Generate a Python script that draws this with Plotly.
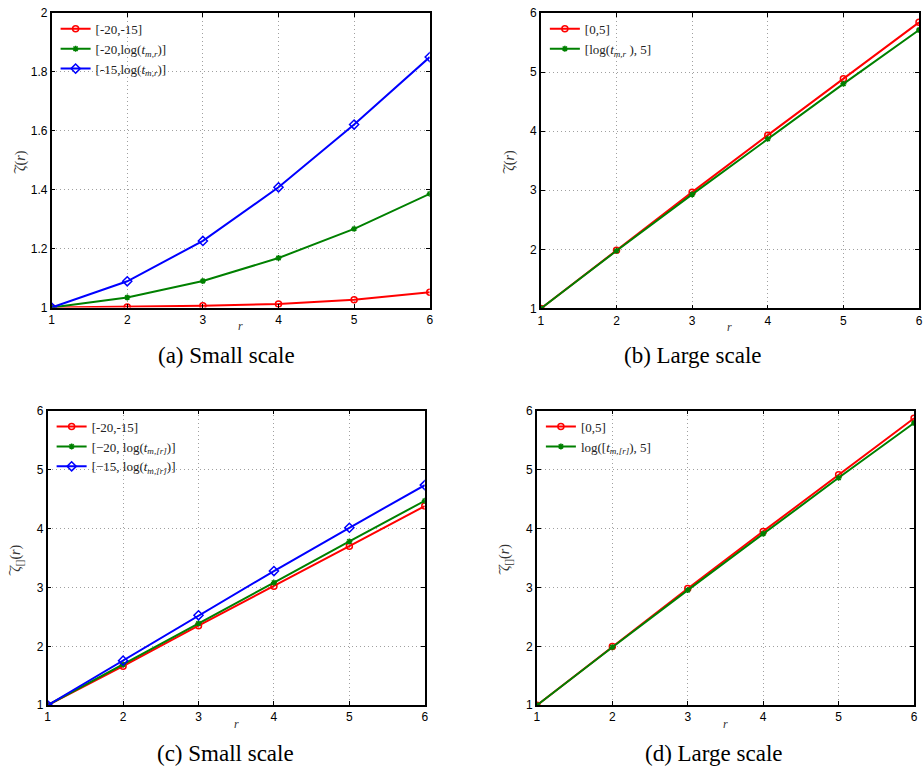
import plotly.graph_objects as go

r = [1, 2, 3, 4, 5, 6]

# (a) Small scale
a_red = [1.0, 1.002, 1.006, 1.012, 1.026, 1.052]
a_green = [1.0, 1.034, 1.090, 1.168, 1.267, 1.386]
a_blue = [1.0, 1.089, 1.226, 1.408, 1.621, 1.850]
# (b) Large scale
b_red = [1.0, 1.987, 2.968, 3.932, 4.886, 5.84]
b_green = [1.0, 1.976, 2.93, 3.87, 4.80, 5.71]
# (c) Small scale
c_red = [1.0, 1.663, 2.35, 3.02, 3.70, 4.38]
c_green = [1.0, 1.69, 2.39, 3.08, 3.78, 4.47]
c_blue = [1.0, 1.757, 2.526, 3.277, 4.012, 4.736]
# (d) Large scale
d_red = [1.0, 1.997, 2.98, 3.95, 4.91, 5.87]
d_green = [1.0, 1.985, 2.954, 3.91, 4.86, 5.79]

leg_a = ["[-20,-15]", "[-20,log(<i>t</i><sub><i>m,r</i></sub>)]", "[-15,log(<i>t</i><sub><i>m,r</i></sub>)]"]
leg_b = ["[0,5]", "[log(<i>t</i><sub><i>m,r</i></sub> ), 5]"]
leg_c = ["[-20,-15]", "[\u221220, log(<i>t</i><sub><i>m,[r]</i></sub>)]", "[\u221215, log(<i>t</i><sub><i>m,[r]</i></sub>)]"]
leg_d = ["[0,5]", "log([<i>t</i><sub><i>m,[r]</i></sub>), 5]"]

RED, GREEN, BLUE = "#ff0000", "#008000", "#0000ff"
styles = {
    "red": dict(color=RED, marker=dict(symbol="circle-open", size=6, color=RED, line=dict(width=1.5, color=RED)), lw=2),
    "green": dict(color=GREEN, marker=dict(symbol="asterisk-open", size=5, color=GREEN, line=dict(width=1.5, color=GREEN)), lw=2),
    "blue": dict(color=BLUE, marker=dict(symbol="diamond-open", size=7, color=BLUE, line=dict(width=1.5, color=BLUE)), lw=2),
}

fig = go.Figure()

def add(y, name, style, ax, legend):
    s = styles[style]
    fig.add_trace(go.Scatter(
        x=r, y=y, name=name, mode="lines+markers",
        line=dict(color=s["color"], width=s["lw"]),
        marker=s["marker"],
        xaxis="x" + ax, yaxis="y" + ax, legend=legend,
    ))

add(a_red, leg_a[0], "red", "", "legend")
add(a_green, leg_a[1], "green", "", "legend")
add(a_blue, leg_a[2], "blue", "", "legend")
add(b_red, leg_b[0], "red", "2", "legend2")
add(b_green, leg_b[1], "green", "2", "legend2")
add(c_red, leg_c[0], "red", "3", "legend3")
add(c_green, leg_c[1], "green", "3", "legend3")
add(c_blue, leg_c[2], "blue", "3", "legend3")
add(d_red, leg_d[0], "red", "4", "legend4")
add(d_green, leg_d[1], "green", "4", "legend4")

W, H = 924, 780
# pixel boxes: left, right, top, bottom
boxes = {
    "": (49, 430, 6, 306),
    "2": (542, 923, 6, 307),
    "3": (45, 425, 411, 711),
    "4": (538, 918, 411, 711),
}
yranges = {"": [1, 2], "2": [1, 6], "3": [1, 6], "4": [1, 6]}
ydticks = {"": 0.2, "2": 1, "3": 1, "4": 1}

tickfont = dict(family="Liberation Sans, Arial, sans-serif", size=12, color="black")
axcommon = dict(
    showline=True, linecolor="black", linewidth=1.5, mirror="ticks",
    ticks="inside", ticklen=4, tickcolor="black", tickwidth=1,
    showgrid=True, gridcolor="#a0a0a0", gridwidth=1, griddash="1px,3px",
    zeroline=False, tickfont=tickfont,
)

layout = dict(
    width=W, height=H, margin=dict(l=0, r=0, t=0, b=0),
    paper_bgcolor="white", plot_bgcolor="white", showlegend=True,
)
for k, (l, rr, t, b) in boxes.items():
    xd = [l / W, rr / W]
    yd = [1 - b / H, 1 - t / H]
    layout["xaxis" + k] = dict(axcommon, domain=xd, range=[1, 6], dtick=1, tick0=1,
                               anchor="y" + k)
    layout["yaxis" + k] = dict(axcommon, domain=yd, range=yranges[k], dtick=ydticks[k],
                               tick0=1, anchor="x" + k)
    leg = "legend" + k
    layout[leg] = dict(
        x=(l + 4) / W, y=1 - (t + 1) / H, xanchor="left", yanchor="top",
        bgcolor="rgba(0,0,0,0)", borderwidth=0,
        font=dict(family="Liberation Serif, Times New Roman, serif", size=13, color="#222"),
        itemwidth=30, tracegroupgap=0,
    )

fig.update_layout(**layout)

ann = []
serif = "Liberation Serif, Times New Roman, serif"
for k, (l, rr, t, b) in boxes.items():
    cx = (l + rr) / 2
    cy = (t + b) / 2
    ann.append(dict(x=cx / W, y=1 - (b + 19) / H, xref="paper", yref="paper",
                    text="<i>r</i>", showarrow=False, xanchor="center", yanchor="middle",
                    font=dict(family=serif, size=12, color="#333")))
    ylab = "<i>\u03b6</i>(<i>r</i>)" if k in ("", "2") else "<i>\u03b6</i><sub>[]</sub>(<i>r</i>)"
    ann.append(dict(x=(l - 31) / W, y=1 - cy / H, xref="paper", yref="paper",
                    text=ylab, showarrow=False, textangle=-90, xanchor="center", yanchor="middle",
                    font=dict(family=serif, size=14, color="#333")))
    # wide hat above the zeta (rotated: to the left of it)
    hat_dy = 10 if k in ("", "2") else 14
    ann.append(dict(x=(l - 39) / W, y=1 - (cy + hat_dy) / H, xref="paper", yref="paper",
                    text="\u2322", showarrow=False, textangle=-90, xanchor="center", yanchor="middle",
                    font=dict(family="DejaVu Sans, sans-serif", size=10, color="#333")))

captions = [("(a) Small scale", 225, 355), ("(b) Large scale", 695, 355),
            ("(c) Small scale", 224, 760), ("(d) Large scale", 716, 760)]
for txt, x, y in captions:
    ann.append(dict(x=x / W, y=1 - y / H, xref="paper", yref="paper", text=txt,
                    showarrow=False, xanchor="center", yanchor="middle",
                    font=dict(family=serif, size=23, color="black")))

fig.update_layout(annotations=ann)
fig.write_html("out.html")
